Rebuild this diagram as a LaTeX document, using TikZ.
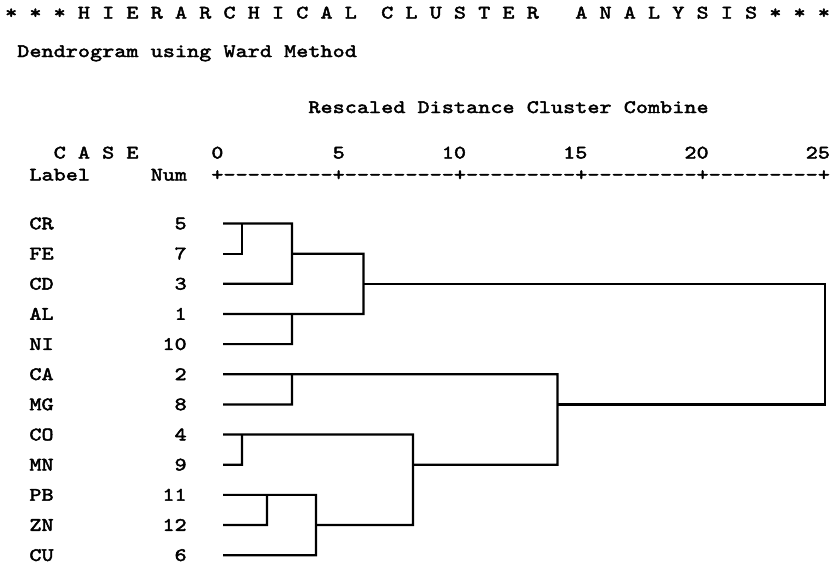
\documentclass[tikz,border=0pt]{standalone}
\usepackage{fontspec}
\newfontfamily\spss{lmmono10-regular.otf}[FakeStretch=1.2,FakeBold=2.5]
\newlength\gp \setlength\gp{12.13pt}
\def\g#1{\gloop#1\relax}
\def\gloop#1{\ifx\relax#1\else\makebox[\gp]{#1}\expandafter\gloop\fi}
\def\G#1{\expandafter\g\expandafter{#1}}
\def\cx#1{4.93+12.13*#1}
\begin{document}
\begin{tikzpicture}[x=1pt,y=-1pt,
  txt/.style={inner sep=0pt,anchor=base west,font=\spss\fontsize{19}{19}\selectfont},
  rtxt/.style={txt,anchor=base east},
  dl/.style={line width=2.2pt,line join=miter}]
\useasboundingbox[fill=white] (0,0) rectangle (831,568);
% header
\node[txt] (title) at ({\cx{0}},18.5) {\g{*~*~*~H~I~E~R~A~R~C~H~I~C~A~L~~C~L~U~S~T~E~R~~~A~N~A~L~Y~S~I~S~*~*~*}};
\node[txt] (method) at ({\cx{1}},57) {\g{Dendrogram~using~Ward~Method}};
\node[txt] (rescaled) at ({\cx{25}},113) {\g{Rescaled~Distance~Cluster~Combine}};
\node[txt] (case) at ({\cx{4}},158.5) {\g{C~A~S~E}};
\node[txt] (t0) at ({\cx{17}},158.5) {\g{0}};
\node[txt] (t5) at ({\cx{27}},158.5) {\g{5}};
\node[txt] (t10) at ({\cx{36}},158.5) {\g{10}};
\node[txt] (t15) at ({\cx{46}},158.5) {\g{15}};
\node[txt] (t20) at ({\cx{56}},158.5) {\g{20}};
\node[txt] (t25) at ({\cx{66}},158.5) {\g{25}};
\node[txt] (label) at ({\cx{2}},180.5) {\g{Label}};
\node[txt] (num) at ({\cx{12}},180.5) {\g{Num}};
\node[txt] (axis) at ({\cx{17}},180.5) {\g{+---------+---------+---------+---------+---------+}};
% rows
\foreach \lab/\nm [count=\i from 0] in {CR/5,FE/7,CD/3,AL/1,NI/10,CA/2,MG/8,CO/4,MN/9,PB/11,ZN/12,CU/6}{
  \node[txt] (lab\i) at ({\cx{2}},{223.5+30.15*\i+5.8}) {\G{\lab}};
  \node[rtxt] (num\i) at ({\cx{15}},{223.5+30.15*\i+5.8}) {\G{\nm}};
  \coordinate (l\i) at (223,{223.5+30.15*\i});
}
% join points
\coordinate (aT) at (242,223.5);   \coordinate (aB) at (242,253.65);
\coordinate (bT) at (292,223.5);   \coordinate (bB) at (292,283.8);   \coordinate (bO) at (292,253.65);
\coordinate (cT) at (292,313.95);  \coordinate (cB) at (292,344.1);
\coordinate (dT) at (363.5,253.65);\coordinate (dB) at (363.5,313.95);\coordinate (dO) at (363.5,283.8);
\coordinate (eT) at (292,374.25);  \coordinate (eB) at (292,404.4);
\coordinate (fT) at (242,434.55);  \coordinate (fB) at (242,464.7);
\coordinate (gT) at (267,494.85);  \coordinate (gB) at (267,525);
\coordinate (hT) at (316,494.85);  \coordinate (hB) at (316,555.15); \coordinate (hO) at (316,525);
\coordinate (iT) at (413,434.55);  \coordinate (iB) at (413,525);    \coordinate (iO) at (413,464.7);
\coordinate (jT) at (557.5,374.25);\coordinate (jB) at (557.5,464.7);\coordinate (jO) at (557.5,404.4);
\coordinate (kT) at (825,283.8);   \coordinate (kB) at (825,404.4);
% dendrogram
\draw[dl] (l1) -- (aB) -- (aT);
\draw[dl] (l0) -- (bT) -- (bB) -- (l2);
\draw[dl] (bO) -- (dT) -- (dB) -- (l3);
\draw[dl] (l4) -- (cB) -- (cT);
\draw[dl] (dO) -- (kT) -- (kB) -- (jO);
\draw[dl] (l5) -- (jT) -- (jB) -- (iO);
\draw[dl] (l6) -- (eB) -- (eT);
\draw[dl] (l7) -- (iT) -- (iB) -- (hO);
\draw[dl] (l8) -- (fB) -- (fT);
\draw[dl] (l9) -- (hT) -- (hB) -- (l11);
\draw[dl] (l10) -- (gB) -- (gT);
\end{tikzpicture}
\end{document}
